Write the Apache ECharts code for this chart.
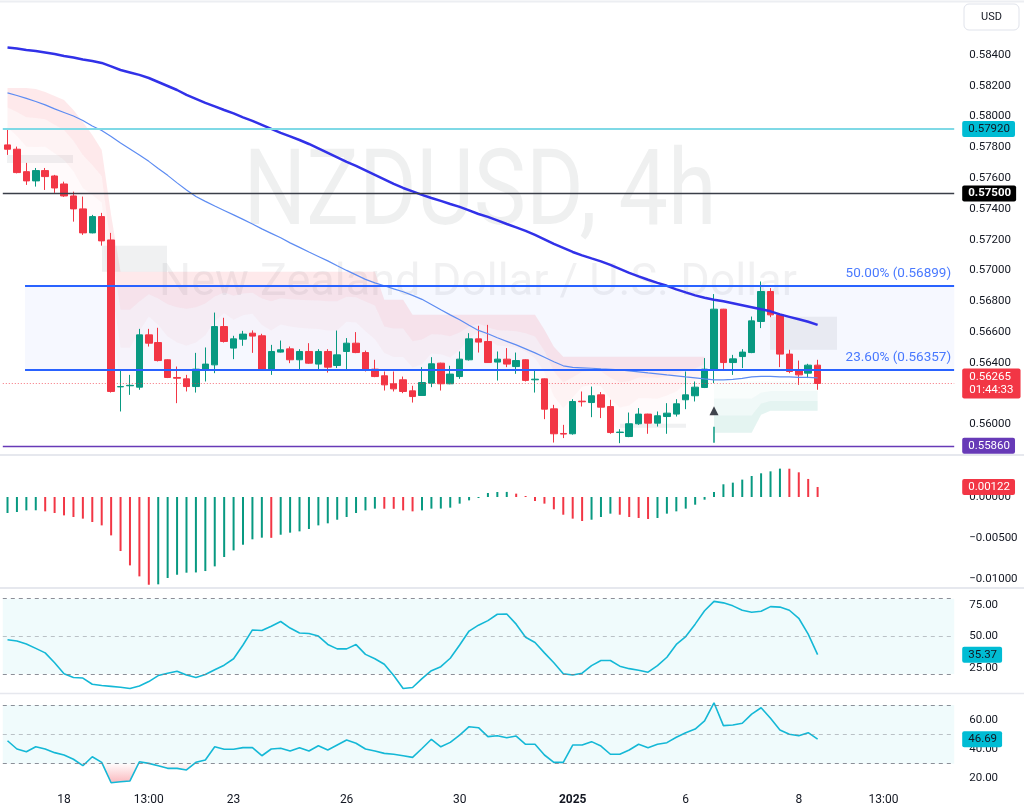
<!DOCTYPE html>
<html><head><meta charset="utf-8">
<script src="https://cdn.jsdelivr.net/npm/echarts@6/dist/echarts.min.js"></script>
<style>html,body{margin:0;padding:0;background:#fff}#c{width:1024px;height:812px}</style>
</head><body><div id="c"></div>
<script>
// ---------------- DATA ----------------
const slotCount = 101;
const timeTicks = [[6,'18'],[15,'13:00'],[24,'23'],[36,'26'],[48,'30'],[60,'2025'],[72,'6'],[84,'8'],[93,'13:00']];
// [open, close, low, high]
const candles = [
[0.57816,0.57788,0.57751,0.57926],[0.57788,0.57636,0.57631,0.57805],[0.57642,0.57582,0.57556,0.57699],
[0.57582,0.57649,0.57545,0.57666],[0.57649,0.57610,0.57523,0.57666],[0.57614,0.57536,0.57504,0.57621],
[0.57562,0.57484,0.57478,0.57577],[0.57484,0.57400,0.57317,0.57512],[0.57400,0.57244,0.57231,0.57480],
[0.57244,0.57350,0.57241,0.57361],[0.57350,0.57192,0.57161,0.57374],[0.57198,0.56213,0.56206,0.57244],
[0.56243,0.56245,0.56083,0.56354],[0.56250,0.56253,0.56191,0.56321],[0.56241,0.56581,0.56224,0.56620],
[0.56581,0.56527,0.56505,0.56620],[0.56531,0.56414,0.56408,0.56627],[0.56419,0.56304,0.56300,0.56422],
[0.56304,0.56299,0.56137,0.56375],[0.56295,0.56245,0.56213,0.56321],[0.56245,0.56358,0.56206,0.56464],
[0.56358,0.56391,0.56278,0.56499],[0.56386,0.56635,0.56332,0.56726],[0.56635,0.56538,0.56531,0.56692],
[0.56495,0.56555,0.56423,0.56575],[0.56553,0.56586,0.56510,0.56607],[0.56592,0.56573,0.56464,0.56610],
[0.56575,0.56358,0.56354,0.56588],[0.56358,0.56473,0.56321,0.56516],[0.56469,0.56484,0.56466,0.56544],
[0.56490,0.56419,0.56397,0.56505],[0.56419,0.56473,0.56358,0.56488],[0.56473,0.56397,0.56393,0.56527],
[0.56391,0.56473,0.56358,0.56488],[0.56473,0.56371,0.56336,0.56488],[0.56382,0.56451,0.56365,0.56609],
[0.56473,0.56527,0.56358,0.56560],[0.56527,0.56466,0.56462,0.56599],[0.56466,0.56354,0.56343,0.56479],
[0.56358,0.56310,0.56306,0.56419],[0.56315,0.56256,0.56219,0.56343],[0.56263,0.56230,0.56213,0.56343],
[0.56289,0.56213,0.56202,0.56310],[0.56217,0.56180,0.56141,0.56250],[0.56187,0.56271,0.56187,0.56371],
[0.56267,0.56393,0.56241,0.56436],[0.56397,0.56263,0.56219,0.56400],[0.56263,0.56326,0.56260,0.56380],
[0.56310,0.56423,0.56295,0.56473],[0.56419,0.56555,0.56414,0.56592],[0.56555,0.56534,0.56466,0.56640],
[0.56538,0.56401,0.56399,0.56646],[0.56404,0.56423,0.56284,0.56473],[0.56423,0.56391,0.56371,0.56495],
[0.56375,0.56414,0.56328,0.56466],[0.56419,0.56285,0.56278,0.56422],[0.56289,0.56293,0.56206,0.56358],
[0.56295,0.56098,0.56033,0.56298],[0.56100,0.55938,0.55881,0.56126],[0.55940,0.55936,0.55910,0.55996],
[0.55938,0.56148,0.55932,0.56163],[0.56150,0.56146,0.56115,0.56213],[0.56141,0.56185,0.56046,0.56245],
[0.56191,0.56111,0.56040,0.56209],[0.56115,0.55946,0.55938,0.56159],[0.55946,0.55949,0.55877,0.55968],
[0.55920,0.56003,0.55916,0.56076],[0.56003,0.56066,0.55996,0.56105],[0.56066,0.56007,0.55938,0.56068],
[0.56007,0.56055,0.55985,0.56083],[0.56050,0.56072,0.55938,0.56137],[0.56066,0.56133,0.56050,0.56163],
[0.56159,0.56191,0.56098,0.56343],[0.56185,0.56241,0.56148,0.56278],[0.56239,0.56358,0.56235,0.56430],
[0.56358,0.56748,0.56267,0.56846],[0.56748,0.56401,0.56354,0.56750],[0.56401,0.56425,0.56321,0.56451],
[0.56440,0.56469,0.56365,0.56488],[0.56466,0.56672,0.56462,0.56700],[0.56668,0.56863,0.56625,0.56928],
[0.56863,0.56711,0.56696,0.56885],[0.56711,0.56456,0.56371,0.56722],[0.56456,0.56343,0.56332,0.56484],
[0.56347,0.56321,0.56256,0.56414],[0.56332,0.56384,0.56300,0.56393],[0.56384,0.56265,0.56224,0.56419]
];
const maSlow = [0.58449,0.58442,0.58433,0.58427,0.58417,0.58407,0.58394,0.58384,0.58371,0.58362,
0.58349,0.58326,0.58303,0.58287,0.58271,0.58251,0.58225,0.58199,0.58173,0.58141,
0.58115,0.58089,0.58066,0.58043,0.58021,0.57995,0.57972,0.57946,0.57920,0.57894,
0.57871,0.57848,0.57822,0.57793,0.57764,0.57735,0.57705,0.57679,0.57650,0.57621,
0.57592,0.57562,0.57536,0.57514,0.57491,0.57471,0.57452,0.57432,0.57413,0.57390,
0.57367,0.57348,0.57325,0.57302,0.57280,0.57257,0.57231,0.57202,0.57172,0.57146,
0.57120,0.57098,0.57078,0.57059,0.57036,0.57010,0.56984,0.56961,0.56939,0.56919,
0.56900,0.56877,0.56857,0.56838,0.56822,0.56809,0.56799,0.56786,0.56773,0.56760,
0.56747,0.56734,0.56714,0.56698,0.56682,0.56666,0.56646];
const maFast = [0.58154,0.58137,0.58118,0.58098,0.58076,0.58050,0.58027,0.58004,0.57975,0.57939,
0.57910,0.57871,0.57829,0.57790,0.57751,0.57709,0.57663,0.57618,0.57569,0.57523,
0.57481,0.57449,0.57419,0.57390,0.57361,0.57332,0.57302,0.57270,0.57241,0.57212,
0.57179,0.57150,0.57120,0.57091,0.57062,0.57030,0.57000,0.56971,0.56942,0.56919,
0.56900,0.56880,0.56861,0.56838,0.56812,0.56779,0.56744,0.56711,0.56679,0.56643,
0.56610,0.56588,0.56562,0.56539,0.56516,0.56490,0.56464,0.56435,0.56406,0.56380,
0.56370,0.56367,0.56364,0.56360,0.56357,0.56354,0.56347,0.56341,0.56334,0.56328,
0.56321,0.56315,0.56308,0.56302,0.56295,0.56289,0.56289,0.56292,0.56298,0.56308,
0.56311,0.56311,0.56308,0.56308,0.56305,0.56305,0.56302];
// bearish trailing band (candles 0..74): band line and the level where its shading fades out
const bearBand = [0.58186,0.58186,0.58186,0.58180,0.58160,0.58134,0.58108,0.58043,0.57965,0.57881,
0.57783,0.57361,0.56991,0.56991,0.56991,0.56991,0.56991,0.56991,0.56991,0.56991,
0.56991,0.56991,0.56991,0.56991,0.56991,0.56991,0.56991,0.56991,0.56991,0.56991,
0.56991,0.56991,0.56991,0.56991,0.56991,0.56991,0.56991,0.56991,0.56991,0.56991,
0.56809,0.56809,0.56809,0.56711,0.56711,0.56711,0.56711,0.56711,0.56711,0.56711,
0.56711,0.56711,0.56711,0.56711,0.56711,0.56711,0.56711,0.56614,0.56503,0.56438,
0.56438,0.56438,0.56438,0.56438,0.56438,0.56438,0.56438,0.56438,0.56438,0.56438,
0.56438,0.56438,0.56438,0.56438,0.56438];
const bearFade = [0.57803,0.57718,0.57614,0.57614,0.57627,0.57575,0.57523,0.57445,0.57322,0.57296,
0.57270,0.56705,0.56250,0.56250,0.56412,0.56555,0.56471,0.56360,0.56302,0.56269,
0.56302,0.56373,0.56510,0.56588,0.56523,0.56568,0.56581,0.56471,0.56419,0.56477,
0.56458,0.56445,0.56438,0.56432,0.56419,0.56419,0.56503,0.56497,0.56412,0.56334,
0.56289,0.56250,0.56250,0.56198,0.56230,0.56334,0.56328,0.56295,0.56367,0.56484,
0.56542,0.56471,0.56412,0.56406,0.56393,0.56354,0.56289,0.56198,0.56022,0.55938,
0.56042,0.56146,0.56165,0.56152,0.56029,0.55944,0.55964,0.56035,0.56035,0.56029,
0.56061,0.56100,0.56178,0.56211,0.56302];
// bullish trailing band (candles 75..86)
const bullStart = 75;
const bullBand = [0.55944,0.55944,0.55944,0.55944,0.55944,0.56061,0.56087,0.56087,0.56087,0.56087,0.56087,0.56087];
const bullFade = [0.56280,0.56280,0.56280,0.56280,0.56280,0.56280,0.56280,0.56280,0.56280,0.56280,0.56280,0.56280];
const macdHist = [-0.00195,-0.00183,-0.00163,-0.00162,-0.00175,-0.00195,-0.00224,-0.00244,-0.00264,-0.00305,
-0.00346,-0.00468,-0.00659,-0.00834,-0.00968,-0.01070,-0.01065,-0.00988,-0.00948,-0.00923,
-0.00920,-0.00903,-0.00846,-0.00732,-0.00651,-0.00582,-0.00516,-0.00496,-0.00498,-0.00460,
-0.00435,-0.00419,-0.00390,-0.00346,-0.00321,-0.00277,-0.00244,-0.00195,-0.00163,-0.00142,
-0.00143,-0.00144,-0.00163,-0.00175,-0.00163,-0.00142,-0.00141,-0.00130,-0.00081,-0.00041,
-0.00012,0.00049,0.00061,0.00062,0.00041,0.00012,-0.00049,-0.00081,-0.00150,-0.00216,
-0.00264,-0.00293,-0.00277,-0.00244,-0.00203,-0.00216,-0.00244,-0.00256,-0.00268,-0.00256,
-0.00203,-0.00175,-0.00142,-0.00094,-0.00033,0.00061,0.00155,0.00175,0.00212,0.00256,
0.00289,0.00313,0.00346,0.00345,0.00301,0.00220,0.00122];
const stochK = [47.3,46.3,43.9,40.4,36.8,28.9,20.2,17.1,16.7,11.8,
10.8,10.1,9.4,8.4,10.4,13.9,18.7,20.6,22.2,19.1,
17.1,19.5,23.4,27.0,32.1,43.1,55.1,54.6,58.1,61.8,
56.6,52.6,52.2,50.2,43.5,40.0,40.0,43.4,35.6,32.1,
27.7,18.7,8.4,9.2,16.3,22.6,25.8,32.5,43.1,54.2,
58.9,62.5,67.6,67.8,59.7,49.2,45.1,36.8,28.9,20.2,
19.1,20.6,26.6,30.7,30.7,26.2,24.2,23.0,21.4,26.6,
33.3,43.5,49.8,59.7,70.4,77.9,76.7,74.3,70.8,69.2,
70.0,73.7,73.3,70.8,64.4,51.8,35.37];
const rsi = [45.6,40.0,38.1,41.5,40.0,37.5,35.9,33.0,28.6,34.7,
30.9,17.0,17.7,18.2,31.3,30.2,28.6,26.8,26.8,25.7,
30.9,32.5,41.5,39.8,39.8,40.9,40.9,35.4,40.0,40.5,
38.6,40.9,38.6,42.2,39.3,42.7,46.1,43.9,40.0,38.6,
37.0,36.4,35.4,34.3,40.3,46.6,41.5,44.5,49.5,55.2,
54.5,48.4,49.0,47.7,48.8,43.2,43.2,35.9,30.9,30.9,
42.7,42.7,45.0,42.0,36.4,36.4,39.3,43.2,40.9,43.2,
44.3,48.0,51.1,53.6,59.1,71.5,55.9,56.3,57.5,63.8,
68.1,60.9,52.9,50.0,49.0,51.1,46.69];
const levelCyan = 0.5792, levelBlack = 0.575, levelPurple = 0.5586, lastPrice = 0.56265, countdown = '01:44:33';
const fibLevels = [[0.56899,'50.00% (0.56899)'],[0.56357,'23.60% (0.56357)']];
const fibStart = 1.86;
const greyBoxes = [[-0.05,6.95,0.57751,0.57699],[10.03,16.93,0.57160,0.56991],[65.02,72.03,0.56003,0.55977],[80.95,88.06,0.56698,0.56484]];
const signalIndex = 75, signalHead = 0.56087, signalShaft = [0.55983, 0.55879];
const stochBands = [80, 50, 20], rsiBands = [70, 50, 30];
const stochLevels = [25, 50, 75], rsiLevels = [20, 40, 60];

// ---------------- CHART ----------------
const FONT = 'Roboto, "Noto Sans", sans-serif';
const UP = '#089981', DOWN = '#f23645', TXT = '#131722';
const cats = Array.from({length: slotCount}, () => '');
timeTicks.forEach(([i, t]) => { cats[i] = t; });
const place = (arr, start) => { const out = new Array(slotCount).fill(null); arr.forEach((v, i) => { out[start + i] = v; }); return out; };
const third = (hi, lo) => hi.map((h, i) => (h - lo[i]) / 3);

const bearStep = third(bearBand, bearFade);
const bullStep = third(bullFade, bullBand);
const hidden = {symbol: 'none', lineStyle: {opacity: 0}, silent: true, z: 1, xAxisIndex: 0, yAxisIndex: 0};
const invisibleLine = {color: 'rgba(0,0,0,0)', width: 0, type: 'solid'};

function boxLabel(text, bg, fg, extra) {
  return Object.assign({show: true, position: 'end', distance: 8, formatter: text, backgroundColor: bg, color: fg,
    padding: [2, 5, 2, 6], fontSize: 11.5, fontFamily: FONT, borderRadius: 2, opacity: 1}, extra || {});
}
const axisLab = (fmt) => ({color: TXT, fontSize: 11.5, fontFamily: FONT, margin: 15, formatter: fmt});
const noAxis = {axisLine: {show: false}, axisTick: {show: false}, splitLine: {show: false}};
const dashed = (v, mid) => ({yAxis: v, lineStyle: {color: mid ? 'rgba(120,123,134,0.45)' : 'rgba(120,123,134,0.85)', type: [4, 4], width: 1}, label: {show: false}});

const option = {
  animation: false,
  backgroundColor: '#ffffff',
  textStyle: {fontFamily: FONT},
  grid: [
    {left: 2.8, right: 69.8, top: 0, height: 455},
    {left: 2.8, right: 69.8, top: 456, height: 164},
    {left: 2.8, right: 69.8, top: 589, height: 110},
    {left: 2.8, right: 69.8, top: 694, height: 99}
  ],
  xAxis: [
    {type: 'category', gridIndex: 0, data: cats, show: false},
    {type: 'value', gridIndex: 0, min: -0.5, max: slotCount - 0.5, show: false},
    {type: 'category', gridIndex: 1, data: cats, show: false},
    {type: 'category', gridIndex: 2, data: cats, show: false},
    {type: 'category', gridIndex: 3, data: cats, axisLine: {show: false}, axisTick: {show: false}, splitLine: {show: false},
      axisLabel: {interval: 0, margin: 1, color: TXT, fontSize: 12, fontFamily: FONT,
        formatter: (v) => v === '2025' ? '{b|2025}' : v, rich: {b: {fontWeight: 'bold', fontSize: 12, color: TXT, fontFamily: FONT}}}}
  ],
  yAxis: [
    Object.assign({type: 'value', gridIndex: 0, position: 'right', min: 0.558, max: 0.58758, interval: 0.002,
      axisLabel: axisLab((v) => (v < 0.5595 || v > 0.5850) ? '' : v.toFixed(5))}, noAxis),
    Object.assign({type: 'value', gridIndex: 1, position: 'right', min: -0.015, max: 0.005, interval: 0.005,
      axisLabel: axisLab((v) => (v > 0.004 || v < -0.0125) ? '' : (Math.abs(v) < 1e-9 ? '0.00000' : (v < 0 ? '\u2212' : '') + Math.abs(v).toFixed(5)))}, noAxis),
    Object.assign({type: 'value', gridIndex: 2, position: 'right', min: 0, max: 87.75, interval: 25,
      axisLabel: axisLab((v) => stochLevels.some(l => Math.abs(l - v) < 1e-6) ? v.toFixed(2) : '')}, noAxis),
    Object.assign({type: 'value', gridIndex: 3, position: 'right', min: 10, max: 77.47, interval: 10,
      axisLabel: axisLab((v) => rsiLevels.some(l => Math.abs(l - v) < 1e-6) ? v.toFixed(2) : '')}, noAxis)
  ],
  graphic: [
    {type: 'text', x: 480, y: 198, scaleY: 1.2, z: -5, silent: true,
      style: {text: 'NZDUSD, 4h', fontSize: 88, fontFamily: FONT, fill: 'rgba(19,23,34,0.065)', align: 'center', verticalAlign: 'middle', textAlign: 'center', textVerticalAlign: 'middle'}},
    {type: 'text', x: 478, y: 284, z: -5, silent: true,
      style: {text: 'New Zealand Dollar / U.S. Dollar', fontSize: 45, fontFamily: FONT, fill: 'rgba(19,23,34,0.06)', align: 'center', verticalAlign: 'middle', textAlign: 'center', textVerticalAlign: 'middle'}},
    {type: 'line', shape: {x1: 0, y1: 1.5, x2: 1024, y2: 1.5}, style: {stroke: '#eceef2', lineWidth: 2}, z: 50, silent: true},
    {type: 'line', shape: {x1: 0, y1: 455, x2: 1024, y2: 455}, style: {stroke: '#e6e8ee', lineWidth: 2}, z: 50, silent: true},
    {type: 'line', shape: {x1: 0, y1: 588, x2: 1024, y2: 588}, style: {stroke: '#e6e8ee', lineWidth: 2}, z: 50, silent: true},
    {type: 'line', shape: {x1: 0, y1: 693.5, x2: 1024, y2: 693.5}, style: {stroke: '#e6e8ee', lineWidth: 1.5}, z: 50, silent: true},
    {type: 'rect', shape: {x: 964, y: 4, width: 55, height: 26, r: 5}, style: {fill: '#ffffff', stroke: '#e0e3eb', lineWidth: 1}, z: 100, silent: true},
    {type: 'text', x: 991.5, y: 17.5, z: 101, silent: true,
      style: {text: 'USD', fontSize: 11, fontFamily: FONT, fill: TXT, align: 'center', verticalAlign: 'middle', textAlign: 'center', textVerticalAlign: 'middle'}}
  ],
  series: [
    // decorations on the fractional x axis: fib zone, grey boxes, fib lines
    {type: 'line', xAxisIndex: 1, yAxisIndex: 0, data: [], silent: true, z: 1,
      markArea: {silent: true, data: [
        [{coord: [fibStart, fibLevels[1][0]], itemStyle: {color: 'rgba(41,98,255,0.045)'}}, {coord: [slotCount - 0.5, fibLevels[0][0]]}]
      ].concat(greyBoxes.map(b => [{coord: [b[0], b[2]], itemStyle: {color: 'rgba(120,123,134,0.11)'}}, {coord: [b[1], b[3]]}]))},
      markLine: {silent: true, precision: 5, symbol: ['none', 'none'], data: fibLevels.map(f => [
        {coord: [fibStart, f[0]], lineStyle: {color: '#2962ff', width: 2, type: 'solid'},
          label: {show: true, position: 'insideEndTop', distance: [3, 5], formatter: f[1], color: 'rgba(41,98,255,0.85)', fontSize: 13.5, fontFamily: FONT}},
        {coord: [slotCount - 0.51, f[0]]}
      ])}
    },
    // bearish band shading
    Object.assign({type: 'line', stack: 'bear', data: place(bearFade, 0)}, hidden),
    Object.assign({type: 'line', stack: 'bear', data: place(bearStep, 0), areaStyle: {color: 'rgba(242,54,69,0.025)', opacity: 1}}, hidden),
    Object.assign({type: 'line', stack: 'bear', data: place(bearStep, 0), areaStyle: {color: 'rgba(242,54,69,0.06)', opacity: 1}}, hidden),
    Object.assign({type: 'line', stack: 'bear', data: place(bearStep, 0), areaStyle: {color: 'rgba(242,54,69,0.11)', opacity: 1}}, hidden),
    // bullish band shading
    Object.assign({type: 'line', stack: 'bull', data: place(bullBand, bullStart)}, hidden),
    Object.assign({type: 'line', stack: 'bull', data: place(bullStep, bullStart), areaStyle: {color: 'rgba(8,153,129,0.11)', opacity: 1}}, hidden),
    Object.assign({type: 'line', stack: 'bull', data: place(bullStep, bullStart), areaStyle: {color: 'rgba(8,153,129,0.06)', opacity: 1}}, hidden),
    Object.assign({type: 'line', stack: 'bull', data: place(bullStep, bullStart), areaStyle: {color: 'rgba(8,153,129,0.025)', opacity: 1}}, hidden),
    // candles
    {type: 'candlestick', xAxisIndex: 0, yAxisIndex: 0, data: candles, barWidth: 7, z: 3,
      itemStyle: {color: UP, color0: DOWN, borderColor: UP, borderColor0: DOWN, borderWidth: 1},
      markLine: {silent: true, precision: 5, symbol: ['none', 'none'], z: 6, data: [
        {yAxis: levelCyan, lineStyle: {color: '#7fd9e6', width: 2, type: 'solid'}, label: boxLabel(levelCyan.toFixed(5), '#00bcd4', TXT)},
        {yAxis: levelBlack, lineStyle: {color: '#3a3e48', width: 1.3, type: 'solid'}, label: boxLabel(levelBlack.toFixed(5), '#000000', '#ffffff', {fontWeight: 'bold'})},
        {yAxis: levelPurple, lineStyle: {color: '#673ab7', width: 1.3, type: 'solid'}, label: boxLabel(levelPurple.toFixed(5), '#673ab7', '#ffffff')},
        {yAxis: lastPrice, lineStyle: {color: 'rgba(242,54,69,0.7)', width: 1, type: [1, 2]},
          label: boxLabel(lastPrice.toFixed(5) + '\n' + countdown, '#f23645', '#ffffff', {lineHeight: 13, padding: [2, 7, 2, 7]})}
      ]}
    },
    // moving averages
    {type: 'line', xAxisIndex: 0, yAxisIndex: 0, data: maSlow, symbol: 'none', z: 4, lineStyle: {color: '#3131e8', width: 2.5}},
    {type: 'line', xAxisIndex: 0, yAxisIndex: 0, data: maFast, symbol: 'none', z: 4, lineStyle: {color: '#5d8cf2', width: 1.2}},
    // signal arrow
    {type: 'line', xAxisIndex: 1, yAxisIndex: 0, data: signalShaft.map(v => [signalIndex, v]), symbol: 'none', z: 4, lineStyle: {color: UP, width: 1.5}},
    {type: 'scatter', xAxisIndex: 0, yAxisIndex: 0, data: [[signalIndex, signalHead]], symbol: 'triangle', symbolSize: [9, 9], z: 5, itemStyle: {color: TXT}},
    // MACD histogram
    {type: 'bar', xAxisIndex: 2, yAxisIndex: 1, barWidth: 2,
      data: macdHist.map((v, i) => ({value: v, itemStyle: {color: (i === 0 || v >= macdHist[i - 1]) ? UP : DOWN}})),
      markLine: {silent: true, precision: 5, symbol: ['none', 'none'], data: [
        {yAxis: macdHist[macdHist.length - 1], lineStyle: invisibleLine, label: boxLabel(macdHist[macdHist.length - 1].toFixed(5), '#f23645', '#ffffff')}
      ]}
    },
    // Stochastic
    {type: 'line', xAxisIndex: 3, yAxisIndex: 2, data: stochK, symbol: 'none', z: 4, lineStyle: {color: '#14b8d6', width: 1.6},
      markArea: {silent: true, data: [[{yAxis: stochBands[2], itemStyle: {color: 'rgba(0,188,212,0.06)'}}, {yAxis: stochBands[0]}]]},
      markLine: {silent: true, precision: 2, symbol: ['none', 'none'], data: [
        dashed(stochBands[0]), dashed(stochBands[1], true), dashed(stochBands[2]),
        {yAxis: stochK[stochK.length - 1], lineStyle: invisibleLine, label: boxLabel(stochK[stochK.length - 1].toFixed(2), '#00bcd4', TXT)}
      ]}
    },
    // RSI oversold fill
    {type: 'line', xAxisIndex: 4, yAxisIndex: 3, stack: 'os', data: rsi.map(v => Math.min(v, rsiBands[2])), symbol: 'none', lineStyle: {opacity: 0}, silent: true, z: 2},
    {type: 'line', xAxisIndex: 4, yAxisIndex: 3, stack: 'os', data: rsi.map(v => rsiBands[2] - Math.min(v, rsiBands[2])), symbol: 'none', lineStyle: {opacity: 0}, silent: true, z: 2,
      areaStyle: {opacity: 1, color: new echarts.graphic.LinearGradient(0, 0, 0, 1, [{offset: 0, color: 'rgba(242,54,69,0.02)'}, {offset: 1, color: 'rgba(242,54,69,0.35)'}])}},
    // RSI
    {type: 'line', xAxisIndex: 4, yAxisIndex: 3, data: rsi, symbol: 'none', z: 4, lineStyle: {color: '#14b8d6', width: 1.6},
      markArea: {silent: true, data: [[{yAxis: rsiBands[2], itemStyle: {color: 'rgba(0,188,212,0.06)'}}, {yAxis: rsiBands[0]}]]},
      markLine: {silent: true, precision: 2, symbol: ['none', 'none'], data: [
        dashed(rsiBands[0]), dashed(rsiBands[1], true), dashed(rsiBands[2]),
        {yAxis: rsi[rsi.length - 1], lineStyle: invisibleLine, label: boxLabel(rsi[rsi.length - 1].toFixed(2), '#00bcd4', TXT)}
      ]}
    }
  ]
};
const chart = echarts.init(document.getElementById('c'), null, {renderer: 'canvas'});
chart.setOption(option);
</script></body></html>
